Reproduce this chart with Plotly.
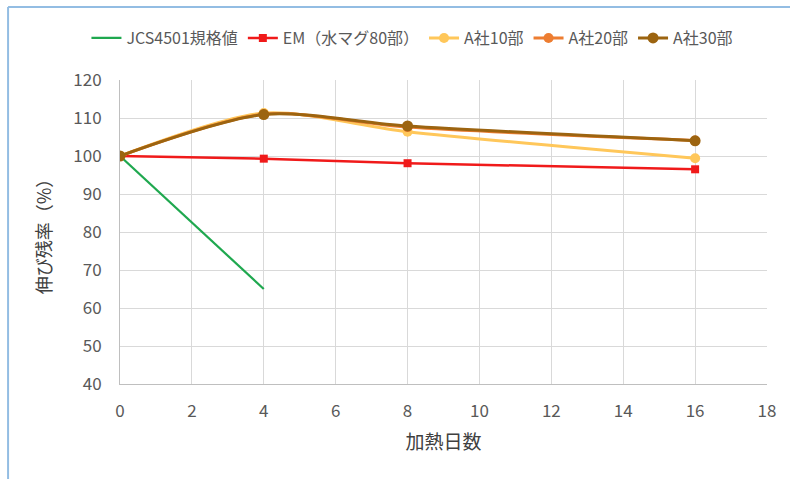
import plotly.graph_objects as go

# Heating days and elongation retention (%) per compound
days_std = [0, 4]
jcs_std = [100, 65]

days = [0, 4, 8, 16]
em_mg80 = [100, 99.3, 98.1, 96.5]
a_10 = [100, 111.3, 106.4, 99.4]
a_20 = [100, 111.0, 107.6, 104.1]
a_30 = [100, 110.9, 107.9, 104.0]

x_ticks = list(range(0, 19, 2))
y_ticks = list(range(40, 121, 10))

FONT = "Noto Sans CJK JP, Noto Sans, sans-serif"
TXT = "#595959"

fig = go.Figure()
fig.add_trace(go.Scatter(
    x=days_std, y=jcs_std, name="JCS4501規格値", mode="lines",
    line=dict(color="#1fa84f", width=2.2),
))
fig.add_trace(go.Scatter(
    x=days, y=em_mg80, name="EM（水マグ80部）", mode="lines+markers",
    line=dict(color="#f01a1a", width=2.5),
    marker=dict(symbol="square", size=8, color="#f01a1a"),
))
fig.add_trace(go.Scatter(
    x=days, y=a_10, name="A社10部", mode="lines+markers",
    line=dict(color="#ffc75a", width=3, shape="spline", smoothing=0.8),
    marker=dict(symbol="circle", size=10, color="#ffc75a"),
))
fig.add_trace(go.Scatter(
    x=days, y=a_20, name="A社20部", mode="lines+markers",
    line=dict(color="#ed7d31", width=3, shape="spline", smoothing=0.8),
    marker=dict(symbol="circle", size=10, color="#ed7d31"),
))
fig.add_trace(go.Scatter(
    x=days, y=a_30, name="A社30部", mode="lines+markers",
    line=dict(color="#9c6410", width=3, shape="spline", smoothing=0.8),
    marker=dict(symbol="circle", size=11, color="#9c6410"),
))

# light-blue frame around the chart area
frame = "#93bde3"
fig.add_shape(type="line", xref="paper", yref="paper",
              x0=-0.173, x1=-0.173, y0=-0.5, y1=1.24,
              line=dict(color=frame, width=2))
fig.add_shape(type="line", xref="paper", yref="paper",
              x0=-0.173, x1=1.1, y0=1.24, y1=1.24,
              line=dict(color=frame, width=2))

fig.update_layout(
    width=790, height=479,
    margin=dict(l=120, r=23, t=80, b=95),
    paper_bgcolor="white", plot_bgcolor="white",
    font=dict(family=FONT, color=TXT, size=16),
    legend=dict(
        orientation="h", x=0.452, xanchor="center", y=1.138, yanchor="middle",
        font=dict(size=16, color=TXT), itemwidth=30, tracegroupgap=0,
    ),
    xaxis=dict(
        range=[0, 18], tickvals=x_ticks, ticktext=[str(v) for v in x_ticks],
        showgrid=True, gridcolor="#d9d9d9", gridwidth=1,
        showline=True, linecolor="#bfbfbf", mirror=False,
        zeroline=False, ticks="", tickfont=dict(size=17, color=TXT),
        ticklabelstandoff=12,
        title=dict(text="加熱日数", font=dict(size=19, color="#404040"), standoff=14),
    ),
    yaxis=dict(
        range=[40, 120], tickvals=y_ticks, ticktext=[str(v) for v in y_ticks],
        showgrid=True, gridcolor="#d9d9d9", gridwidth=1,
        showline=True, linecolor="#bfbfbf",
        zeroline=False, ticks="", tickfont=dict(size=17, color=TXT),
        ticklabelstandoff=14,
        title=dict(text="伸び残率（%）", font=dict(size=18, color="#404040"), standoff=16),
    ),
)

fig.write_html("out.html")
